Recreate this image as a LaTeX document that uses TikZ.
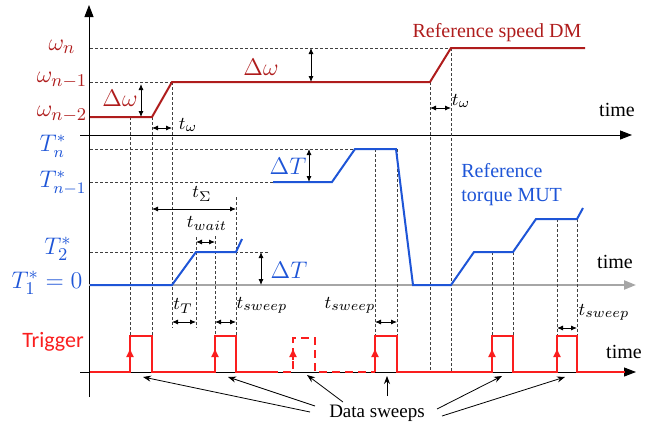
\documentclass[tikz,border=0pt]{standalone}
\usepackage{amsmath}
\usepackage{fontspec}
\setmainfont{Liberation Serif}
\newfontfamily\trigfont{Carlito}
\usepackage{tikz}
\usetikzlibrary{arrows.meta}
\definecolor{spdred}{RGB}{175,28,28}
\definecolor{trqblue}{RGB}{30,85,215}
\definecolor{trgred}{RGB}{250,30,30}
\begin{document}
\begin{tikzpicture}[x=0.5pt,y=-0.5pt,
    axis/.style={line width=0.5pt,-{Triangle[length=6pt,width=4.5pt]}},
    guide/.style={line width=0.35pt,dash pattern=on 1.5pt off 1pt,black!75},
    dim/.style={line width=0.45pt,{Latex[length=3pt,width=2.6pt]}-{Latex[length=3pt,width=2.6pt]}},
    speed/.style={spdred,line width=1pt},
    torque/.style={trqblue,line width=1pt},
    trig/.style={trgred,line width=0.9pt},
    edge/.style={trgred,line width=0.9pt,-{Triangle[length=4pt,width=3.5pt]}},
    sweep/.style={line width=0.4pt,-{Stealth[length=4pt,width=3pt]}},
    lvl/.style={font=\fontsize{12.5}{14}\selectfont,inner sep=0.5pt},
    tlab/.style={font=\fontsize{9.5}{11}\selectfont}]
    \useasboundingbox (0,0) rectangle (660,428);
    % axes
    \draw[axis] (89,397) -- (89,5);
    \draw[axis] (80,135) -- (632,135);
    \draw[axis,gray!70,line width=1.1pt] (89,285) -- (636,285);
    \draw[axis] (80,372) -- (636,372);
    \node (time1) at (617,110) {time};
    \node (time2) at (615,262) {time};
    \node (time3) at (624,352) {time};
    % guide lines
    \draw[guide] (90,48) -- (451,48);
    \draw[guide] (90,82) -- (172,82);
    \draw[guide] (90,149) -- (355,149);
    \draw[guide] (90,182) -- (273,182);
    \draw[guide] (90,252) -- (270,252);
    \draw[guide] (130,117) -- (130,372);
    \draw[guide] (152,117) -- (152,372);
    \draw[guide] (172,82) -- (172,328);
    \draw[guide] (196,237) -- (196,328);
    \draw[guide] (215,236) -- (215,372);
    \draw[guide] (236,197) -- (236,372);
    \draw[guide] (375,149) -- (375,372);
    \draw[guide] (397,149) -- (397,372);
    \draw[guide] (430,82) -- (430,372);
    \draw[guide] (451,48) -- (451,372);
    \draw[guide] (492,252) -- (492,372);
    \draw[guide] (513,252) -- (513,372);
    \draw[guide] (557,219) -- (557,372);
    \draw[guide] (577,219) -- (577,372);
    % reference speed
    \draw[speed] (90,117) -- (152,117) -- (172,82) -- (430,82) -- (451,48) -- (585,48);
    \node[spdred] (refspd) at (497,33) {Reference speed DM};
    \node[lvl,spdred] (wn) at (62,47) {$\omega_n$};
    \node[lvl,spdred] (wn1) at (62,80) {$\omega_{n-1}$};
    \node[lvl,spdred] (wn2) at (62,114) {$\omega_{n-2}$};
    \draw[dim] (141,84) -- (141,117);
    \node[lvl,spdred] (dw1) at (120,98) {$\Delta\omega$};
    \draw[dim] (311,48) -- (311,82);
    \node[lvl,spdred] (dw2) at (261,67) {$\Delta\omega$};
    \draw[dim] (152,128) -- (172,128);
    \node[tlab] (tw1) at (188,125) {$t_\omega$};
    \draw[dim] (430,108) -- (451,108);
    \node[tlab] (tw2) at (461,101) {$t_\omega$};
    % reference torque
    \draw[torque] (90,285) -- (172,285) -- (196,252) -- (236,252) -- (242,239);
    \draw[torque] (273,182) -- (332,182) -- (355,149) -- (396,149) -- (413,285) -- (451,285)
        -- (474,252) -- (513,252) -- (536,219) -- (577,219) -- (583,208);
    \node[trqblue,align=left,anchor=west,inner sep=0pt] (reftrq) at (461,185) {Reference\\torque MUT};
    \node[lvl,trqblue,font=\fontsize{12}{14}\selectfont] (Tn) at (53,146) {$T_n^*$};
    \node[lvl,trqblue,font=\fontsize{12}{14}\selectfont] (Tn1) at (63,183) {$T_{n-1}^*$};
    \node[lvl,trqblue] (T2) at (58,249) {$T_2^*$};
    \node[lvl,trqblue] (T1) at (47,283) {$T_1^*=0$};
    \draw[dim] (309,149) -- (309,182);
    \node[lvl,trqblue] (dT1) at (288,166) {$\Delta T$};
    \draw[dim] (261,252) -- (261,285);
    \node[lvl,trqblue] (dT2) at (289,270) {$\Delta T$};
    \draw[dim] (152,209) -- (236,209);
    \node[tlab] (tsig) at (202,194) {$t_\Sigma$};
    \draw[dim] (196,242) -- (215,242);
    \node[tlab] (twait) at (207,223) {$t_{wait}$};
    \draw[dim] (172,322) -- (196,322);
    \node[tlab] (tT) at (183,306) {$t_T$};
    \draw[dim] (215,322) -- (236,322);
    \node[tlab] (tsw1) at (262,305) {$t_{sweep}$};
    \draw[dim] (375,322) -- (397,322);
    \node[tlab] (tsw2) at (350,305) {$t_{sweep}$};
    \draw[dim] (557,328) -- (577,328);
    \node[tlab] (tsw3) at (604,312) {$t_{sweep}$};
    % trigger
    \node[trgred,font=\trigfont\fontsize{11}{13}\selectfont] (trig) at (53,342) {Trigger};
    \draw[trig] (90,372) -- (130,372) -- (130,336) -- (152,336) -- (152,372) -- (215,372)
        -- (215,336) -- (236,336) -- (236,372) -- (270,372);
    \draw[trig,dash pattern=on 4pt off 2.5pt] (270,372) -- (293,372) -- (293,338) -- (315,338)
        -- (315,372) -- (375,372);
    \draw[trig] (375,372) -- (375,336) -- (397,336) -- (397,372) -- (492,372) -- (492,336)
        -- (513,336) -- (513,372) -- (557,372) -- (557,336) -- (577,336) -- (577,372) -- (625,372);
    \foreach \x in {130,215,293,375,492,557}
        \draw[edge] (\x,360) -- (\x,349);
    % data sweeps
    \node[font=\fontsize{9.5}{11}\selectfont] (sweeps) at (377,413) {Data sweeps};
    \coordinate (p1) at (143,377);
    \coordinate (p2) at (228,377);
    \coordinate (p3) at (307,375);
    \coordinate (p4) at (387,376);
    \coordinate (p5) at (502,376);
    \coordinate (p6) at (565,377);
    \coordinate (q1) at (310,412);
    \coordinate (q2) at (315,406);
    \coordinate (q3) at (343,402);
    \coordinate (q4) at (387,396);
    \coordinate (q5) at (437,409);
    \coordinate (q6) at (442,416);
    \foreach \i in {1,...,6}
        \draw[sweep] (q\i) -- (p\i);
\end{tikzpicture}
\end{document}
